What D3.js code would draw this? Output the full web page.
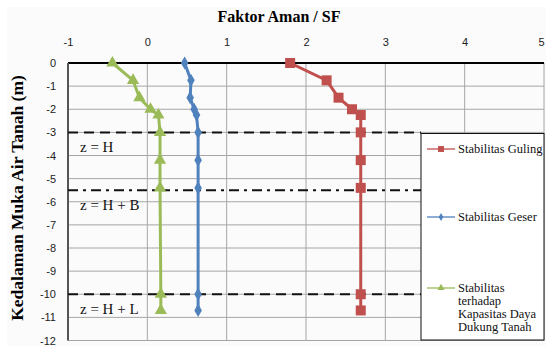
<!DOCTYPE html>
<html>
<head>
<meta charset="utf-8">
<script src="https://cdn.jsdelivr.net/npm/d3@7"></script>
<style>
  body { margin: 0; background: #fff; }
  svg { display: block; }
</style>
</head>
<body>
<div id="chart-area"></div>
<script>
// depth (m) and safety factor per series
var depth = [0, -0.75, -1.5, -2.0, -2.25, -3, -4.2, -5.4, -10, -10.7];
var sfGuling = [1.80, 2.26, 2.41, 2.58, 2.69, 2.69, 2.69, 2.69, 2.69, 2.69];
var sfGeser = [0.47, 0.55, 0.54, 0.59, 0.62, 0.64, 0.64, 0.64, 0.64, 0.64];
var sfDaya = [-0.44, -0.18, -0.10, 0.04, 0.14, 0.16, 0.16, 0.16, 0.17, 0.17];

var xTicks = [-1, 0, 1, 2, 3, 4, 5];
var yTicks = [0, -1, -2, -3, -4, -5, -6, -7, -8, -9, -10, -11, -12];

// reference depths
var refLines = [
  {d: -3, label: "z = H", dash: "10,6"},
  {d: -5.5, label: "z = H + B", dash: "10,5,3,5"},
  {d: -10, label: "z = H + L", dash: "10,6"}
];

var W = 546, H = 346;
var svg = d3.select("#chart-area").append("svg")
  .attr("width", W).attr("height", H);

svg.append("rect")
  .attr("x", 7).attr("y", 7).attr("width", W - 7).attr("height", H - 7)
  .attr("fill", "#fbfbfb");

var x = d3.scaleLinear().domain([-1, 5]).range([68, 544]);
var y = d3.scaleLinear().domain([0, -12]).range([63, 340.5]);

// grid
svg.append("g").selectAll("line.v")
  .data(xTicks).enter().append("line")
    .attr("x1", d => x(d)).attr("x2", d => x(d))
    .attr("y1", y(0)).attr("y2", y(-12))
    .attr("stroke", "#a6a6a6").attr("stroke-width", 1);
svg.append("g").selectAll("line.h")
  .data(yTicks).enter().append("line")
    .attr("x1", x(-1)).attr("x2", x(5))
    .attr("y1", d => y(d)).attr("y2", d => y(d))
    .attr("stroke", "#a6a6a6").attr("stroke-width", 1);

// axis lines
svg.append("line")
  .attr("x1", x(-1)).attr("x2", x(5)).attr("y1", y(0)).attr("y2", y(0))
  .attr("stroke", "#000").attr("stroke-width", 2);
svg.append("line")
  .attr("x1", x(-1)).attr("x2", x(-1)).attr("y1", y(0)).attr("y2", y(-12))
  .attr("stroke", "#555").attr("stroke-width", 2);

// tick labels
var xAxis = d3.axisTop(x).tickValues(xTicks).tickSize(0).tickPadding(0)
  .tickFormat(d => String(d));
var gx = svg.append("g").attr("transform", "translate(0,46)").call(xAxis);
gx.select(".domain").remove();
gx.selectAll("text").attr("font-family", "Liberation Sans, Arial, sans-serif")
  .attr("font-size", "11px").attr("fill", "#222")
  .attr("dx", d => d === 5 ? -3 : 0);

var yAxis = d3.axisLeft(y).tickValues(yTicks).tickSize(0).tickPadding(0)
  .tickFormat(d => String(d));
var gy = svg.append("g").attr("transform", "translate(56,0)").call(yAxis);
gy.select(".domain").remove();
gy.selectAll("text").attr("font-family", "Liberation Sans, Arial, sans-serif")
  .attr("font-size", "11px").attr("fill", "#222");

// titles
svg.append("text")
  .attr("x", 279).attr("y", 22)
  .attr("text-anchor", "middle")
  .attr("font-family", "Liberation Serif, Times New Roman, serif")
  .attr("font-weight", "bold").attr("font-size", "16px")
  .text("Faktor Aman / SF");

svg.append("text")
  .attr("transform", "translate(23,198) rotate(-90)")
  .attr("text-anchor", "middle")
  .attr("font-family", "Liberation Serif, Times New Roman, serif")
  .attr("font-weight", "bold").attr("font-size", "17.5px")
  .text("Kedalaman Muka Air Tanah (m)");

// reference lines
var legendX = 421;
svg.append("g").selectAll("line")
  .data(refLines).enter().append("line")
    .attr("x1", x(-1)).attr("x2", legendX)
    .attr("y1", d => y(d.d)).attr("y2", d => y(d.d))
    .attr("stroke", "#111").attr("stroke-width", 2)
    .attr("stroke-dasharray", d => d.dash);

svg.append("g").selectAll("text")
  .data(refLines).enter().append("text")
    .attr("x", 80).attr("y", d => y(d.d) + 20)
    .attr("font-family", "Liberation Serif, Times New Roman, serif")
    .attr("font-size", "15px").attr("fill", "#111")
    .text(d => d.label);

// series
var series = [
  {name: ["Stabilitas Guling"], vals: sfGuling, color: "#c0504d", shape: d3.symbolSquare, size: 100, ly: 149},
  {name: ["Stabilitas Geser"], vals: sfGeser, color: "#4f81bd", shape: d3.symbolDiamond, size: 50, ly: 217},
  {name: ["Stabilitas", "terhadap", "Kapasitas Daya", "Dukung Tanah"], vals: sfDaya, color: "#9bbb59", shape: d3.symbolTriangle, size: 65, ly: 288}
];

var line = d3.line()
  .x(d => x(d[0]))
  .y(d => y(d[1]));

series.forEach(function(s) {
  var pts = s.vals.map((v, i) => [v, depth[i]]);
  svg.append("path")
    .datum(pts)
    .attr("d", line)
    .attr("fill", "none")
    .attr("stroke", s.color)
    .attr("stroke-width", 3);
  svg.append("g").selectAll("path")
    .data(pts).enter().append("path")
      .attr("transform", d => "translate(" + x(d[0]) + "," + y(d[1]) + ")")
      .attr("d", d3.symbol().type(s.shape).size(s.size))
      .attr("fill", s.color);
});

// legend
svg.append("rect")
  .attr("x", legendX).attr("y", 133.5)
  .attr("width", 544 - legendX).attr("height", 340 - 133.5)
  .attr("fill", "#fff").attr("stroke", "#111").attr("stroke-width", 1);

series.forEach(function(s) {
  svg.append("line")
    .attr("x1", 427).attr("x2", 455).attr("y1", s.ly).attr("y2", s.ly)
    .attr("stroke", s.color).attr("stroke-width", 1.3);
  svg.append("path")
    .attr("transform", "translate(441," + s.ly + ")")
    .attr("d", d3.symbol().type(s.shape).size(s.size * 0.35))
    .attr("fill", s.color);
  var t = svg.append("text")
    .attr("x", 458).attr("y", s.ly + 4)
    .attr("font-family", "Liberation Serif, Times New Roman, serif")
    .attr("font-size", "12.5px").attr("fill", "#111");
  s.name.forEach(function(n, i) {
    t.append("tspan").attr("x", 458).attr("dy", i ? 13 : 0).text(n);
  });
});
</script>
</body>
</html>
